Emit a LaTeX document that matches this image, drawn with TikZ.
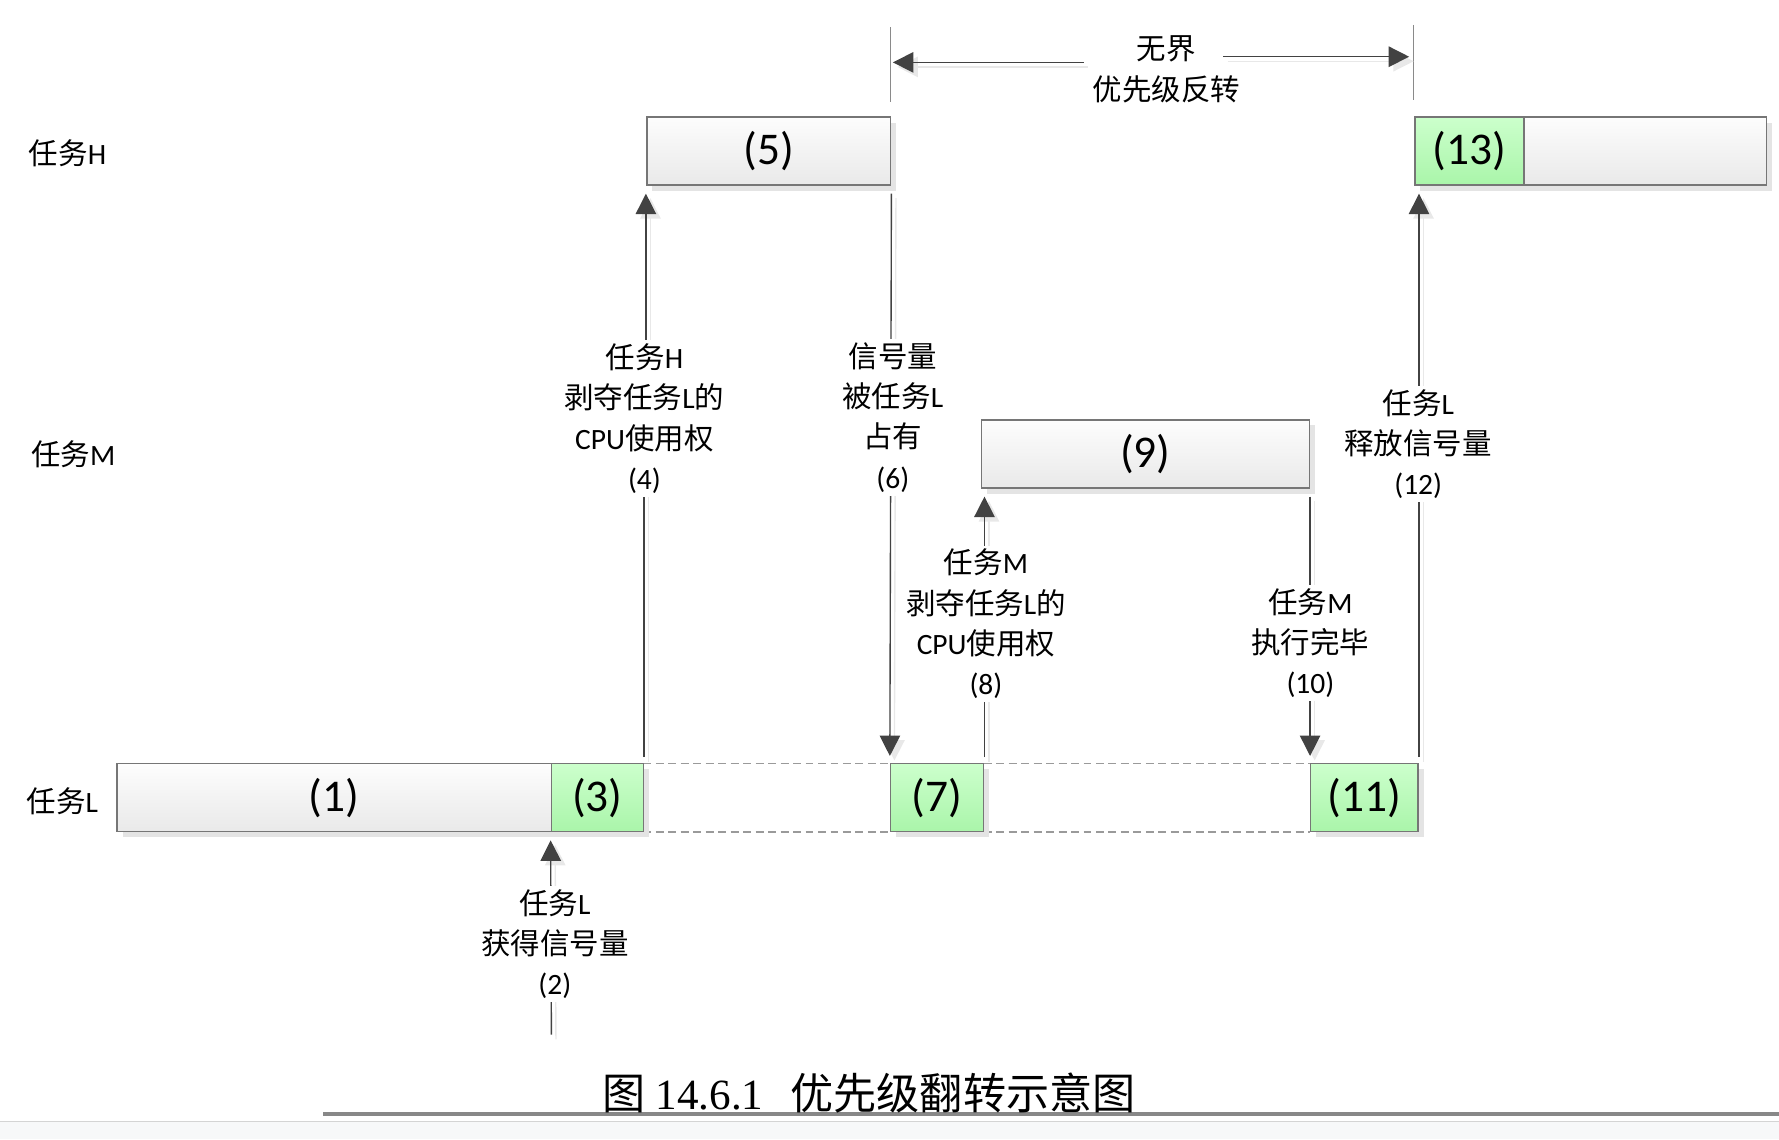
\documentclass[tikz,border=0pt]{standalone}
\usepackage{fontspec}
\setmainfont{Carlito}
\newfontfamily\cjk{Noto Sans CJK SC}
\newfontfamily\capserif{Liberation Serif}
\newcommand\zh[1]{{\cjk #1}}
\usetikzlibrary{arrows.meta,shadows}

\definecolor{boxline}{HTML}{767676}
\definecolor{arrowc}{HTML}{424242}
\definecolor{greentop}{HTML}{CCFFCC}
\definecolor{greenbot}{HTML}{AAF5AA}
\definecolor{graytop}{HTML}{FDFDFD}
\definecolor{graybot}{HTML}{E9E9E9}
\definecolor{shadowc}{HTML}{E4E4E4}
\definecolor{lshadowc}{HTML}{E8E8E8}
\definecolor{dashc}{HTML}{9A9A9A}
\definecolor{extc}{HTML}{8A8A8A}
\definecolor{capline}{HTML}{888888}
\definecolor{bandc}{HTML}{F7F8F9}
\definecolor{bandline}{HTML}{D4D4D4}

\begin{document}
\begin{tikzpicture}[x=0.5pt,y=-0.5pt,
  box/.style={draw=boxline, line width=0.7pt, minimum height=30pt, inner sep=0pt,
    font=\fontsize{20}{24}\selectfont,
    drop shadow={shadow xshift=2.5pt, shadow yshift=-2.5pt, fill=shadowc, opacity=1}},
  wbox/.style={box, top color=graytop, bottom color=graybot},
  gbox/.style={box, top color=greentop, bottom color=greenbot},
  conn/.style={draw=arrowc, line width=0.6pt},
  arr/.style={conn, -{Triangle[length=9pt,width=9pt]},
    preaction={draw=lshadowc, line width=0.6pt, transform canvas={shift={(2pt,-2pt)}}}},
  lab/.style={fill=white, align=center, inner sep=1.5pt, font=\fontsize{13}{17.75}\selectfont},
  rowlab/.style={anchor=west, inner sep=0pt, font=\fontsize{13}{16}\selectfont},
  ext/.style={draw=extc, line width=0.5pt},
  dashln/.style={draw=dashc, line width=0.8pt, dash pattern=on 3.5pt off 2pt}
]
\useasboundingbox (0,0) rectangle (1568,1004);

% bottom band and caption rule
\fill[bandc] (0,988) rectangle (1568,1004);
\draw[bandline, line width=0.4pt] (0,988) -- (1568,988);
\draw[capline, line width=1.6pt] (285,982) -- (1568,982);

% row labels
\node[rowlab] (rH) at (25,135) {\zh{任务}H};
\node[rowlab] (rM) at (27,400) {\zh{任务}M};
\node[rowlab] (rL) at (23,706) {\zh{任务}L};

% dashed outlines on task L row
\draw[dashln] (567,673) -- (785,673) (867,673) -- (1155,673);
\draw[dashln] (567,733) -- (785,733) (867,733) -- (1155,733);

% boxes
\node[wbox, minimum width=107.5pt] (n5) at (677.5,133) {(5)};
\node[gbox, minimum width=48pt] (n13g) at (1295,133) {(13)};
\node[wbox, minimum width=107pt] (n13w) at (1450,133) {};
\node[wbox, minimum width=144.5pt] (n9) at (1009.5,400) {(9)};
\node[wbox, minimum width=191.5pt] (n1) at (294.5,703) {(1)};
\node[gbox, minimum width=40.5pt] (n3) at (526.5,703) {(3)};
\node[gbox, minimum width=41pt] (n7) at (826,703) {(7)};
\node[gbox, minimum width=47.5pt] (n11) at (1202.5,703) {(11)};

% connectors
\coordinate (c2) at (486,912);
\draw[arr, shorten >=3.5pt] (c2) -- (n3.south west);
\node[lab] (L2) at (489,832) {\zh{任务}L\\\zh{获得信号量}\\(2)};

\draw[arr, shorten <=2.5pt, shorten >=3.5pt] (n3.north east) -- (n3.north east |- 0,369) -- (n5.south west |- 0,369) -- (n5.south west);
\node[lab] (L4) at (568,369) {\zh{任务}H\\\zh{剥夺任务}L\zh{的}\\CPU\zh{使用权}\\(4)};

\draw[arr, shorten <=3.5pt, shorten >=3pt] (n5.south east) -- (n7.north west);
\node[lab] (L6) at (787,368) {\zh{信号量}\\\zh{被任务}L\\\zh{占有}\\(6)};

\draw[arr, shorten <=2.5pt, shorten >=3.5pt] (n7.north east) -- (n7.north east |- n9.south);
\node[lab] (L8) at (869,550) {\zh{任务}M\\\zh{剥夺任务}L\zh{的}\\CPU\zh{使用权}\\(8)};

\draw[arr, shorten <=3.5pt, shorten >=3pt] (n9.south east) -- (n9.south east |- n11.north);
\node[lab] (L10) at (1155,567) {\zh{任务}M\\\zh{执行完毕}\\(10)};

\draw[arr, shorten <=2.5pt, shorten >=3.5pt] (n11.north east) -- (n11.north east |- n13g.south);
\node[lab] (L12) at (1250,391.5) {\zh{任务}L\\\zh{释放信号量}\\(12)};

% unbounded priority inversion dimension
\coordinate (e1t) at (785,24);
\coordinate (e1b) at (785,90);
\coordinate (e2t) at (1246,22);
\coordinate (e2b) at (1246,88);
\draw[ext] (e1t) -- (e1b);
\draw[ext] (e2t) -- (e2b);
\node[lab, inner sep=0pt, font=\fontsize{13}{18}\selectfont] (dim) at (1028,61) {\zh{无界}\\\zh{优先级反转}};
\coordinate (a1s) at (955,55);
\coordinate (a1e) at (787,55);
\coordinate (a2s) at (1078,50);
\coordinate (a2e) at (1242,50);
\draw[arr] (a1s) -- (a1e);
\draw[arr] (a2s) -- (a2e);

% caption
\node[anchor=base, inner sep=0pt, font=\fontsize{19}{22}\selectfont] (cap) at (766,978)
  {\zh{图} {\capserif 14.6.1}\hspace{12pt}\zh{优先级翻转示意图}};
\end{tikzpicture}
\end{document}
